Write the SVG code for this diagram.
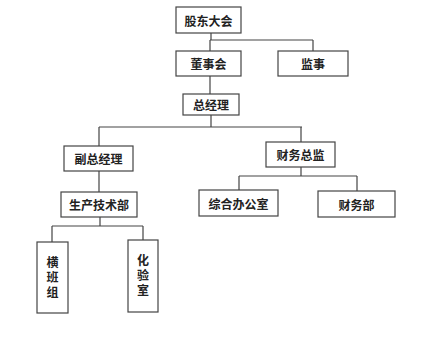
<svg xmlns="http://www.w3.org/2000/svg" width="428" height="351" viewBox="0 0 428 351">
<style>
.box{fill:#fff;stroke:#444;stroke-width:1.2}
.t{font-family:"Noto Sans CJK SC","Noto Sans CJK JP",sans-serif;font-size:12px;font-weight:bold;fill:#222;text-anchor:middle;dominant-baseline:central}
.v{writing-mode:vertical-rl;letter-spacing:3px;glyph-orientation-vertical:0}
.c{fill:none;stroke:#444;stroke-width:1.2}
</style>
<rect width="428" height="351" fill="#fff"/>
<g id="connectors">
<path class="c" d="M211 33V40M210 40H313M210 40V51M313 40V51"/>
<path class="c" d="M210 76V94"/>
<path class="c" d="M211 115V127M99 127H302M99 127V146M301 127V142"/>
<path class="c" d="M99 171V192"/>
<path class="c" d="M100 217V226M52 226H143M52 226V242M143 226V240"/>
<path class="c" d="M301 167V176M239 176H357M239 176V190M357 176V191"/>
</g>
<g id="n1"><rect class="box" x="176" y="7" width="65" height="26"/><text class="t" x="208.5" y="20">股东大会</text></g>
<g id="n2"><rect class="box" x="176" y="51" width="65" height="25"/><text class="t" x="208.5" y="63.5">董事会</text></g>
<g id="n3"><rect class="box" x="278" y="51" width="70" height="25"/><text class="t" x="313" y="63.5">监事</text></g>
<g id="n4"><rect class="box" x="183" y="94" width="56" height="21"/><text class="t" x="211" y="104.5">总经理</text></g>
<g id="n5"><rect class="box" x="64" y="146" width="69" height="25"/><text class="t" x="98.5" y="158.5">副总经理</text></g>
<g id="n6"><rect class="box" x="266" y="142" width="69" height="25"/><text class="t" x="300.5" y="154.5">财务总监</text></g>
<g id="n7"><rect class="box" x="61" y="192" width="76" height="25"/><text class="t" x="99" y="204.5">生产技术部</text></g>
<g id="n8"><rect class="box" x="199" y="190" width="79" height="26"/><text class="t" x="238.5" y="203">综合办公室</text></g>
<g id="n9"><rect class="box" x="318" y="191" width="77" height="26"/><text class="t" x="356.5" y="204">财务部</text></g>
<g id="n10"><rect class="box" x="37" y="242" width="31" height="71"/><text class="t v" x="52.5" y="278.5">横班组</text></g>
<g id="n11"><rect class="box" x="128" y="240" width="30" height="72"/><text class="t v" x="143" y="276.5">化验室</text></g>
</svg>
